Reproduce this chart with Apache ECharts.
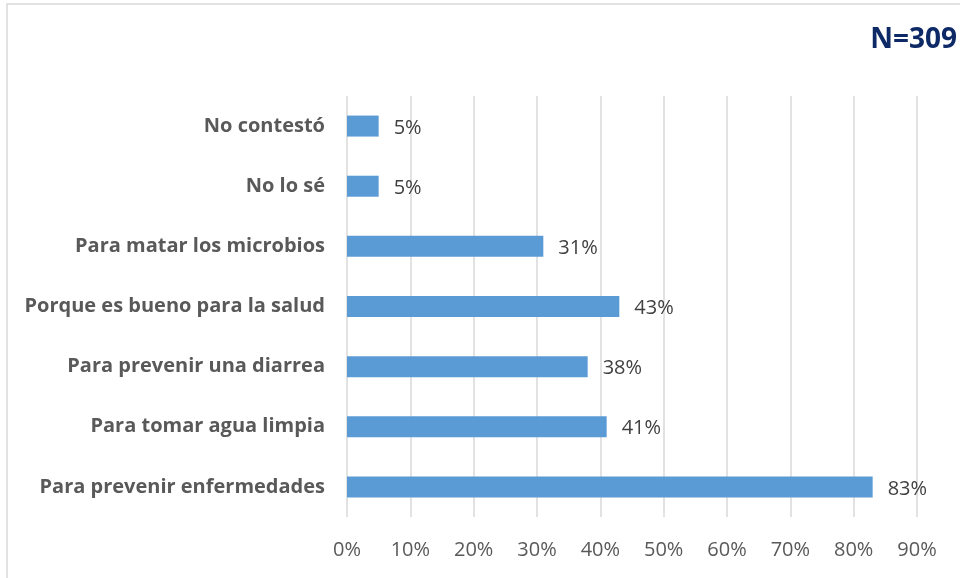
<!DOCTYPE html>
<html>
<head>
<meta charset="utf-8">
<script src="https://cdn.jsdelivr.net/npm/echarts@6/dist/echarts.min.js"></script>
<style>
html,body{margin:0;padding:0;background:#fff;}
#main{width:960px;height:578px;}
</style>
</head>
<body>
<div id="main"></div>
<script>
// categories from bottom to top (as drawn on a category y axis)
var categories = [
    'Para prevenir enfermedades',
    'Para tomar agua limpia',
    'Para prevenir una diarrea',
    'Porque es bueno para la salud',
    'Para matar los microbios',
    'No lo sé',
    'No contestó'
];
var values = [83, 41, 38, 43, 31, 5, 5];
var xTicks = [0, 10, 20, 30, 40, 50, 60, 70, 80, 90];

var chart = echarts.init(document.getElementById('main'));
var option = {
    animation:false,
    backgroundColor:'#fff',
    textStyle:{fontFamily:'Open Sans'},
    graphic:[
        {type:'rect',shape:{x:7,y:4,width:970,height:600},style:{fill:'none',stroke:'#d9d9d9',lineWidth:1.5},silent:true},
        {type:'text',right:3,top:26,style:{text:'N=309',fill:'#0e2a66',font:'bold 28px "Open Sans"'}}
    ],
    grid:{left:347,right:43,top:96,bottom:61,containLabel:false},
    xAxis:{
        type:'value',
        min:xTicks[0],
        max:xTicks[xTicks.length-1],
        interval:10,
        axisLine:{show:false},
        axisTick:{show:false},
        splitLine:{show:true,lineStyle:{color:'#d9d9d9',width:1.5}},
        axisLabel:{formatter:'{value}%',color:'#595959',fontSize:20,margin:23}
    },
    yAxis:{
        type:'category',
        data:categories,
        axisLine:{show:false},
        axisTick:{show:false},
        axisLabel:{color:'#595959',fontSize:20,fontWeight:'bold',margin:22}
    },
    series:[{
        type:'bar',
        data:values,
        barWidth:21,
        itemStyle:{color:'#5b9bd5'},
        label:{show:true,position:'right',distance:15,offset:[0,2],formatter:'{c}%',color:'#404040',fontSize:20}
    }]
};
chart.setOption(option);
</script>
</body>
</html>
